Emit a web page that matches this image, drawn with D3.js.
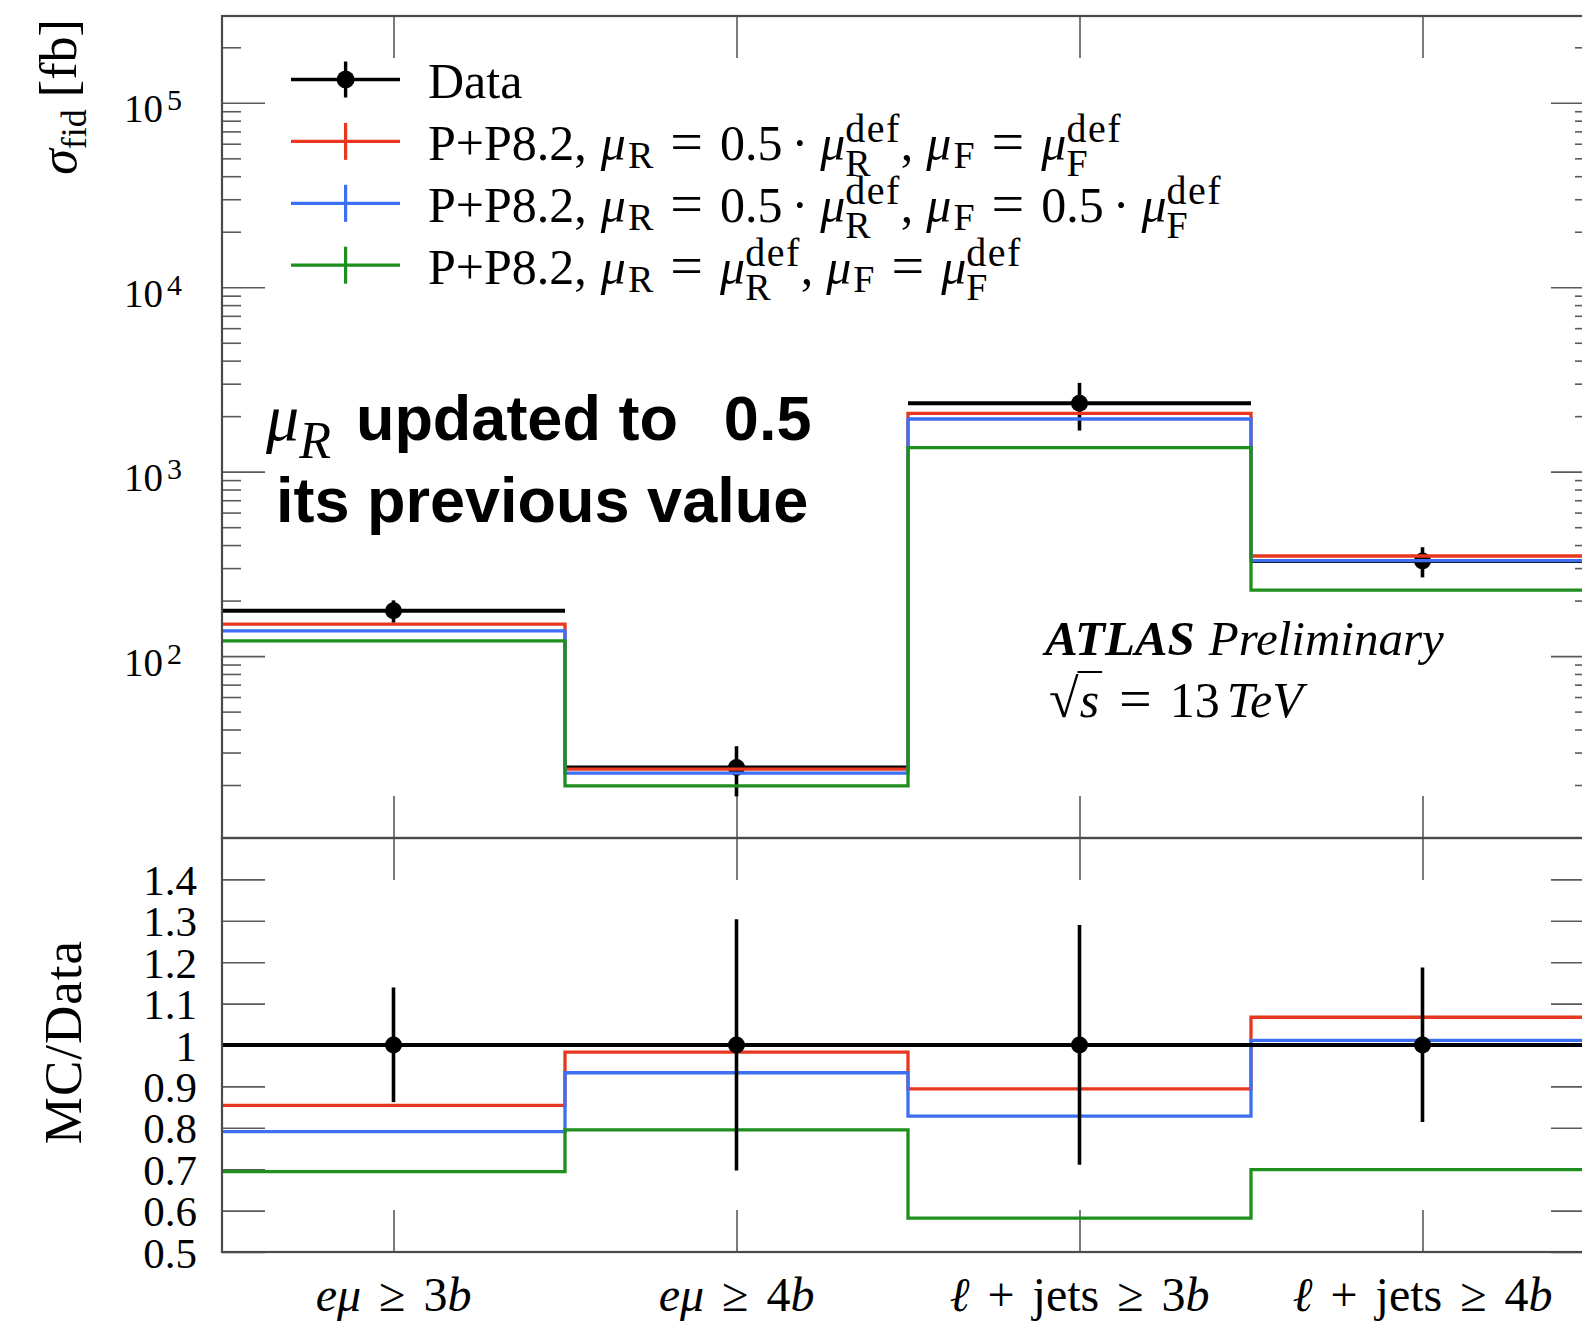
<!DOCTYPE html>
<html>
<head>
<meta charset="utf-8">
<script src="https://cdn.jsdelivr.net/npm/d3@7"></script>
<style>
  html, body { margin: 0; padding: 0; background: #fff; }
  svg { display: block; }
  text { white-space: pre; }
</style>
</head>
<body>
<svg id="chart" width="1582" height="1323"></svg>
<script>
// ---- measured fiducial cross-sections (fb) and predictions ----
const categories = ["eμ ≥ 3b", "eμ ≥ 4b", "ℓ + jets ≥ 3b", "ℓ + jets ≥ 4b"];
const dataXsec   = [176, 24.9, 2350, 328];
// total uncertainty band, as a ratio to the measured value
const dataRelHi  = [1.139, 1.304, 1.290, 1.187];
const dataRelLo  = [0.862, 0.697, 0.711, 0.814];

// Powheg+Pythia8.2 predictions for the three scale choices
const predRedXsec   = [149, 24.4, 2070, 349];   // muR = 0.5 def, muF = def
const predBlueXsec  = [137, 23.2, 1930, 329];   // muR = 0.5 def, muF = 0.5 def
const predGreenXsec = [121, 19.8, 1350, 228];   // muR = def, muF = def

// MC / Data ratios
const predRedRatio   = [0.854, 0.983, 0.894, 1.067];
const predBlueRatio  = [0.791, 0.933, 0.828, 1.011];
const predGreenRatio = [0.694, 0.795, 0.582, 0.699];

// scale factors shown in the legend (null = default scale)
const muRFactors = ["0.5", "0.5", null];
const muFFactors = [null, "0.5", null];
const seriesColors = ["#e8371f", "#3c6ff2", "#1d8f1d"];

// axis ticks
const logMajorTicks = [1e2, 1e3, 1e4, 1e5];
const ratioTicks = [0.5, 0.6, 0.7, 0.8, 0.9, 1.0, 1.1, 1.2, 1.3, 1.4];
const ratioTickLabels = ["0.5", "0.6", "0.7", "0.8", "0.9", "1", "1.1", "1.2", "1.3", "1.4"];

// ---- layout ----
const SERIF = "'Liberation Serif', 'Times New Roman', serif";
const SANS = "'Liberation Sans', Arial, sans-serif";
const plotL = 222, plotR = 1594, plotT = 16, plotSplit = 838, plotB = 1252;
const frameColor = "#4a4a4a", tickColor = "#5a5a5a";

const svg = d3.select("#chart");
svg.append("rect").attr("width", 1582).attr("height", 1323).attr("fill", "#fff");

const x = d3.scaleLinear().domain([0, categories.length]).range([plotL, plotR]);
const yMain = d3.scaleLog().domain([Math.pow(10, 1.0137), Math.pow(10, 5.4707)]).range([plotSplit, plotT]);
const yRatio = d3.scaleLinear().domain([0.5, 1.5]).range([plotB, plotSplit]);
const centers = categories.map((c, i) => x(i + 0.5));

// rich text: sequence of pieces, each its own <text>, laid out left to right
function richText(parent, tx, ty, pieces, anchor) {
  const g = parent.append("g").attr("transform", `translate(${tx},${ty})`);
  const inner = g.append("g");
  let cx = 0;
  const placed = [];
  const put = (p, at) => {
    const t = inner.append("text")
      .attr("x", at).attr("y", p.dy || 0)
      .style("font-family", p.sans ? SANS : SERIF)
      .style("font-size", p.fs + "px")
      .style("font-style", p.it ? "italic" : "normal")
      .style("font-weight", p.bold ? "bold" : "normal")
      .style("letter-spacing", (p.ls || 0) + "px")
      .attr("fill", "#000")
      .text(p.t);
    const w = t.node().getComputedTextLength();
    placed.push({ x: at, w, node: t.node() });
    return w;
  };
  pieces.forEach(p => {
    cx += p.padL || 0;
    if (p.stack) cx += Math.max(...p.stack.map(s => put(s, cx)));
    else cx += put(p, cx);
    cx += p.padR || 0;
  });
  if (anchor === "middle") inner.attr("transform", `translate(${-cx / 2},0)`);
  return { g, inner, width: cx, placed };
}

// ---- axes ----
function styleAxis(sel) {
  sel.select(".domain").remove();
  sel.selectAll(".tick line").attr("stroke", tickColor).attr("stroke-width", 1.6);
}
const minorTicks = [];
for (let e = 1; e <= 5; e++) for (let m = 2; m <= 9; m++) {
  const v = m * Math.pow(10, e);
  if (v > yMain.domain()[0] && v < yMain.domain()[1]) minorTicks.push(v);
}

// main panel, left: majors with labels, minors
const gMajL = svg.append("g").attr("transform", `translate(${plotL},0)`)
  .call(d3.axisLeft(yMain).tickValues(logMajorTicks).tickSizeInner(-43).tickSizeOuter(0).tickPadding(40).tickFormat(""));
styleAxis(gMajL);
gMajL.selectAll(".tick text").each(function (d) {
  const t = d3.select(this).attr("dy", null).attr("y", 19)
    .attr("fill", "#000").style("font-family", SERIF).style("font-size", "39px").text(null);
  t.append("tspan").text("10");
  t.append("tspan").attr("dx", 4).attr("dy", -12).style("font-size", "30px").text(Math.round(Math.log10(d)));
});
svg.append("g").attr("transform", `translate(${plotL},0)`)
  .call(d3.axisLeft(yMain).tickValues(minorTicks).tickSizeInner(-19).tickSizeOuter(0).tickFormat(""))
  .call(styleAxis);
// main panel, right
svg.append("g").attr("transform", `translate(${plotR},0)`)
  .call(d3.axisRight(yMain).tickValues(logMajorTicks).tickSizeInner(-43).tickSizeOuter(0).tickFormat(""))
  .call(styleAxis);
svg.append("g").attr("transform", `translate(${plotR},0)`)
  .call(d3.axisRight(yMain).tickValues(minorTicks).tickSizeInner(-19).tickSizeOuter(0).tickFormat(""))
  .call(styleAxis);

// ratio panel, left and right
const gRatL = svg.append("g").attr("transform", `translate(${plotL},0)`)
  .call(d3.axisLeft(yRatio).tickValues(ratioTicks).tickSizeInner(-43).tickSizeOuter(0).tickPadding(25)
    .tickFormat((d, i) => ratioTickLabels[i]));
styleAxis(gRatL);
gRatL.selectAll(".tick text").attr("dy", null).attr("y", 15)
  .attr("fill", "#000").style("font-family", SERIF).style("font-size", "43px");
svg.append("g").attr("transform", `translate(${plotR},0)`)
  .call(d3.axisRight(yRatio).tickValues(ratioTicks).tickSizeInner(-43).tickSizeOuter(0).tickFormat(""))
  .call(styleAxis);

// category ticks on every horizontal frame edge
[[plotT, d3.axisTop], [plotSplit, d3.axisBottom], [plotSplit, d3.axisTop], [plotB, d3.axisBottom]].forEach(([yy, ax]) => {
  svg.append("g").attr("transform", `translate(0,${yy})`)
    .call(ax(x).tickValues(categories.map((c, i) => i + 0.5)).tickSizeInner(-42).tickSizeOuter(0).tickFormat(""))
    .call(styleAxis);
});

// ---- main panel marks ----
const gMain = svg.append("g");
function dataMarks(g, yScale, vals, hi, lo) {
  vals.forEach((v, i) => {
    g.append("line").attr("x1", x(i)).attr("x2", x(i + 1)).attr("y1", yScale(v)).attr("y2", yScale(v))
      .attr("stroke", "#000").attr("stroke-width", 4);
    g.append("line").attr("x1", centers[i]).attr("x2", centers[i])
      .attr("y1", yScale(v * hi[i])).attr("y2", yScale(v * lo[i]))
      .attr("stroke", "#000").attr("stroke-width", 3.6);
    g.append("circle").attr("cx", centers[i]).attr("cy", yScale(v)).attr("r", 8.5).attr("fill", "#000");
  });
}
function stepLine(g, yScale, vals, color) {
  const pts = [];
  vals.forEach((v, i) => { pts.push([x(i), yScale(v)]); pts.push([x(i + 1), yScale(v)]); });
  g.append("path").attr("d", d3.line()(pts)).attr("fill", "none")
    .attr("stroke", color).attr("stroke-width", 3.3).attr("stroke-linejoin", "miter");
}
dataMarks(gMain, yMain, dataXsec, dataRelHi, dataRelLo);
[predRedXsec, predBlueXsec, predGreenXsec].forEach((s, k) => stepLine(gMain, yMain, s, seriesColors[k]));

// ---- ratio panel marks ----
const gRatio = svg.append("g");
[predRedRatio, predBlueRatio, predGreenRatio].forEach((s, k) => stepLine(gRatio, yRatio, s, seriesColors[k]));
dataMarks(gRatio, yRatio, dataXsec.map(() => 1), dataRelHi, dataRelLo);

// ---- frames ----
[[plotT, plotSplit], [plotSplit, plotB]].forEach(([a, b]) => {
  svg.append("rect").attr("x", plotL).attr("y", a).attr("width", plotR - plotL).attr("height", b - a)
    .attr("fill", "none").attr("stroke", frameColor).attr("stroke-width", 2.2);
});

// ---- category labels ----
function categoryPieces(label) {
  const out = [];
  label.split(" ").forEach(tok => {
    if (tok === "≥" || tok === "+") out.push({ t: tok, fs: 48, padL: 18, padR: 18 });
    else if (tok === "jets") out.push({ t: tok, fs: 48 });
    else tok.split("").forEach(ch => out.push({ t: ch, fs: 48, it: /[eμbℓ]/.test(ch) }));
  });
  return out;
}
categories.forEach((c, i) => richText(svg, centers[i], 1311, categoryPieces(c), "middle"));

// ---- axis titles ----
richText(svg.append("g").attr("transform", "translate(76,97) rotate(-90)"), 0, 0,
  [{ t: "σ", fs: 52, it: true }, { t: "fid", fs: 36, dy: 10, padR: 12 }, { t: "[fb]", fs: 52 }], "middle");
richText(svg.append("g").attr("transform", "translate(81,1042) rotate(-90)"), 0, 0,
  [{ t: "MC/Data", fs: 53, ls: 1 }], "middle");

// ---- legend ----
const LEG = 50;
const legendY0 = 79.5, legendDY = 61.9, legX1 = 291, legX2 = 400, legXc = 345.6, legTextX = 428;
const relation = { t: "=", fs: 58, padL: 17, padR: 17, dy: 1 };
function scaleTerm(factor, which) {
  const p = [];
  if (factor) p.push({ t: factor, fs: LEG }, { t: "·", fs: LEG, padL: 9, padR: 12 });
  p.push({ t: "μ", fs: LEG, it: true });
  p.push({ stack: [{ t: "def", fs: 40, ls: 1.5, dy: -18, padL: 1 }, { t: which, fs: 38, dy: 16 }] });
  return p;
}
function legendPieces(k) {
  return [
    { t: "P+P8.2,", fs: LEG, padR: 14 },
    { t: "μ", fs: LEG, it: true, padR: 2 }, { t: "R", fs: 38, dy: 8 },
    relation,
    ...scaleTerm(muRFactors[k], "R"),
    { t: ",", fs: LEG, padR: 13 },
    { t: "μ", fs: LEG, it: true, padR: 2 }, { t: "F", fs: 38, dy: 8 },
    relation,
    ...scaleTerm(muFFactors[k], "F")
  ];
}
const gLeg = svg.append("g");
// data entry
gLeg.append("line").attr("x1", legX1).attr("x2", legX2).attr("y1", legendY0).attr("y2", legendY0)
  .attr("stroke", "#000").attr("stroke-width", 3.6);
gLeg.append("line").attr("x1", legXc).attr("x2", legXc).attr("y1", legendY0 - 18).attr("y2", legendY0 + 18)
  .attr("stroke", "#000").attr("stroke-width", 3.4);
gLeg.append("circle").attr("cx", legXc).attr("cy", legendY0).attr("r", 9).attr("fill", "#000");
richText(gLeg, legTextX, legendY0 + 18.5, [{ t: "Data", fs: LEG }]);
seriesColors.forEach((col, k) => {
  const yy = legendY0 + legendDY * (k + 1);
  gLeg.append("line").attr("x1", legX1).attr("x2", legX2).attr("y1", yy).attr("y2", yy)
    .attr("stroke", col).attr("stroke-width", 3.2);
  gLeg.append("line").attr("x1", legXc).attr("x2", legXc).attr("y1", yy - 18.5).attr("y2", yy + 18.5)
    .attr("stroke", col).attr("stroke-width", 3.2);
  richText(gLeg, legTextX, yy + 18.5, legendPieces(k));
});

// ---- annotation ----
richText(svg, 266, 440, [
  { t: "μ", fs: 66, it: true }, { t: "R", fs: 52, it: true, dy: 18, padR: 25 },
  { t: "updated to", fs: 63, sans: true, bold: true, padR: 46 },
  { t: "0.5", fs: 63, sans: true, bold: true }
]);
richText(svg, 276, 522, [{ t: "its previous value", fs: 63, sans: true, bold: true }]);

// ---- experiment label ----
richText(svg, 1045, 655, [
  { t: "ATLAS", fs: 49, it: true, bold: true, padR: 14 },
  { t: "Preliminary", fs: 49, it: true }
]);
const sq = richText(svg, 1049, 717, [
  { t: "√", fs: 54 }, { t: "s", fs: 50, it: true, padL: 1, padR: 2 },
  { t: "=", fs: 58, padL: 18, padR: 18, dy: 1 }, { t: "13", fs: 50, padR: 7 }, { t: "TeV", fs: 50, it: true }
]);
{
  const rb = sq.placed[0].node.getBBox();
  const s = sq.placed[1];
  sq.inner.append("line").attr("x1", rb.x + rb.width - 1.5).attr("x2", s.x + s.w + 3)
    .attr("y1", rb.y + 3).attr("y2", rb.y + 3).attr("stroke", "#000").attr("stroke-width", 2);
}
</script>
</body>
</html>
